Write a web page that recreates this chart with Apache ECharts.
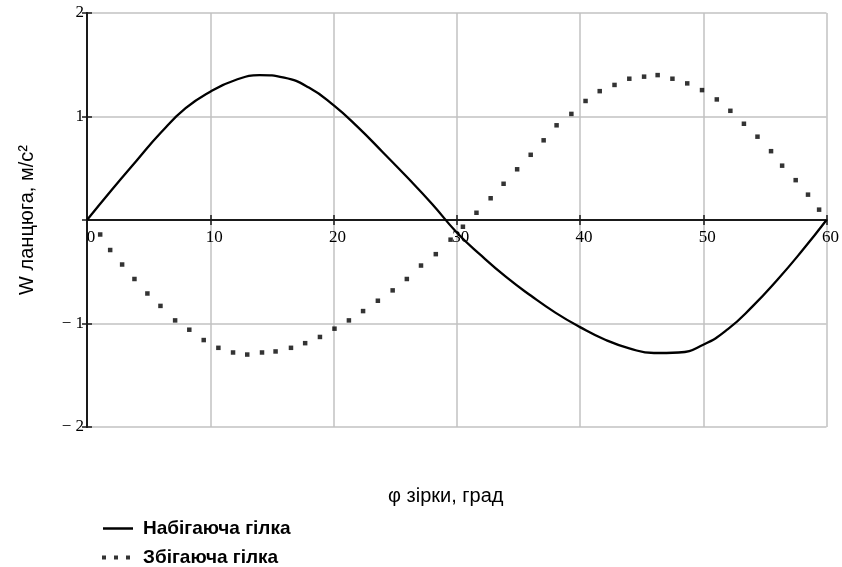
<!DOCTYPE html>
<html>
<head>
<meta charset="utf-8">
<script src="https://cdn.jsdelivr.net/npm/echarts@6/dist/echarts.min.js"></script>
<style>
  html, body { margin: 0; padding: 0; background: #fff; }
  #chart { width: 842px; height: 567px; }
</style>
</head>
<body>
<div id="chart"></div>
<script>
var chart = echarts.init(document.getElementById('chart'));

// Набігаюча гілка (суцільна лінія)
var solidX = [0, 2, 4, 6, 8, 10, 12, 14, 16, 18, 20, 22, 24, 26, 28, 30,
  32, 34, 36, 38, 40, 42, 44, 46, 48, 50, 52, 54, 56, 58, 60];
var solidY = [0, 0.29, 0.57, 0.845, 1.08, 1.24, 1.35, 1.40, 1.375, 1.28, 1.11, 0.895, 0.655, 0.41, 0.155, -0.12,
  -0.345, -0.55, -0.73, -0.895, -1.035, -1.155, -1.24, -1.285, -1.28, -1.205, -1.055, -0.835, -0.58, -0.30, 0];

// Збігаюча гілка (точки)
var dotX = [1.07, 1.88, 2.85, 3.85, 4.9, 5.96, 7.15, 8.3, 9.47, 10.66, 11.85, 13.0, 14.2, 15.3,
  16.55, 17.7, 18.9, 20.08, 21.25, 22.4, 23.6, 24.8, 25.95, 27.1, 28.3, 29.5, 30.5, 31.6,
  32.75, 33.8, 34.9, 36.0, 37.05, 38.1, 39.3, 40.45, 41.6, 42.8, 44.0, 45.2, 46.3, 47.5,
  48.7, 49.9, 51.1, 52.2, 53.3, 54.4, 55.5, 56.4, 57.5, 58.5, 59.4];
var dotY = [-0.14, -0.29, -0.43, -0.57, -0.71, -0.83, -0.97, -1.06, -1.16, -1.235, -1.28, -1.30, -1.28, -1.27,
  -1.235, -1.19, -1.13, -1.05, -0.97, -0.88, -0.78, -0.68, -0.57, -0.44, -0.33, -0.19, -0.065, 0.07,
  0.21, 0.35, 0.49, 0.63, 0.77, 0.915, 1.025, 1.15, 1.245, 1.305, 1.365, 1.385, 1.40, 1.365,
  1.32, 1.255, 1.165, 1.055, 0.93, 0.805, 0.665, 0.525, 0.385, 0.245, 0.10];

var nameA = 'Набігаюча гілка';
var nameB = 'Збігаюча гілка';

function zip(xs, ys) {
  return xs.map(function (x, i) { return [x, ys[i]]; });
}

var serif = 'Liberation Serif';
var sans = 'Liberation Sans';
var axisColor = '#1a1a1a';

// x axis sits on y = 0, i.e. half the grid height above the bottom edge
function xAxisBase(withLabels) {
  return {
    type: 'value', min: 0, max: 60, interval: 10, position: 'bottom', offset: -207,
    axisLine: { show: true, onZero: false, lineStyle: { color: axisColor, width: 2 } },
    axisTick: { show: true, inside: !withLabels, length: 5, lineStyle: { color: axisColor, width: 1.5 } },
    axisLabel: {
      show: withLabels, margin: 9, color: '#000', fontFamily: serif, fontSize: 17,
      padding: [0, 0, 0, 8]
    },
    splitLine: { show: withLabels, lineStyle: { color: '#c2c2c2', width: 1.5 } }
  };
}

function yAxisBase(withLabels) {
  return {
    type: 'value', min: -2, max: 2, interval: 1, position: 'left',
    axisLine: { show: true, onZero: false, lineStyle: { color: axisColor, width: 2 } },
    axisTick: { show: true, inside: !withLabels, length: 5, lineStyle: { color: axisColor, width: 1.5 } },
    axisLabel: {
      show: withLabels, margin: 3, color: '#000', fontFamily: serif, fontSize: 17,
      formatter: function (v) {
        if (v === 0) return '';
        return v < 0 ? '\u2212 ' + Math.abs(v) : String(v);
      }
    },
    splitLine: { show: withLabels, lineStyle: { color: '#c2c2c2', width: 1.5 } }
  };
}

var yMain = yAxisBase(true);
yMain.name = 'W ланцюга, м/с²';
yMain.nameLocation = 'middle';
yMain.nameGap = 50;
yMain.nameTextStyle = { color: '#000', fontFamily: sans, fontSize: 20 };

var legendText = { color: '#000', fontFamily: sans, fontSize: 19, fontWeight: 'bold' };

chart.setOption({
  animation: false,
  grid: { left: 87, right: 14, top: 13, bottom: 140 },
  xAxis: [xAxisBase(true), xAxisBase(false)],
  yAxis: [yMain, yAxisBase(false)],
  legend: [
    {
      data: [{ name: nameA, icon: 'path://M0,0h30v2.5h-30z' }],
      left: 103, top: 519, padding: 0, itemWidth: 30, itemHeight: 2.5,
      textStyle: Object.assign({ padding: [0, 0, 0, 5] }, legendText)
    },
    {
      data: [{ name: nameB, icon: 'path://M0,0h4v4h-4z M12,0h4v4h-4z M24,0h4v4h-4z' }],
      left: 102, top: 548, padding: 0, itemWidth: 28, itemHeight: 4,
      textStyle: Object.assign({ padding: [0, 0, 0, 8] }, legendText)
    }
  ],
  graphic: [{
    type: 'text', left: 388, top: 486,
    style: { text: '\u03C6 зірки, град', fill: '#000', font: '20px "Liberation Sans"' }
  }],
  series: [
    {
      name: nameA, type: 'line', data: zip(solidX, solidY),
      smooth: true, showSymbol: false, z: 3,
      lineStyle: { color: '#000', width: 2.3 }, itemStyle: { color: '#000' }
    },
    {
      name: nameB, type: 'scatter', data: zip(dotX, dotY),
      symbol: 'rect', symbolSize: 4.5, z: 3,
      itemStyle: { color: '#000' }
    }
  ]
});
</script>
</body>
</html>
